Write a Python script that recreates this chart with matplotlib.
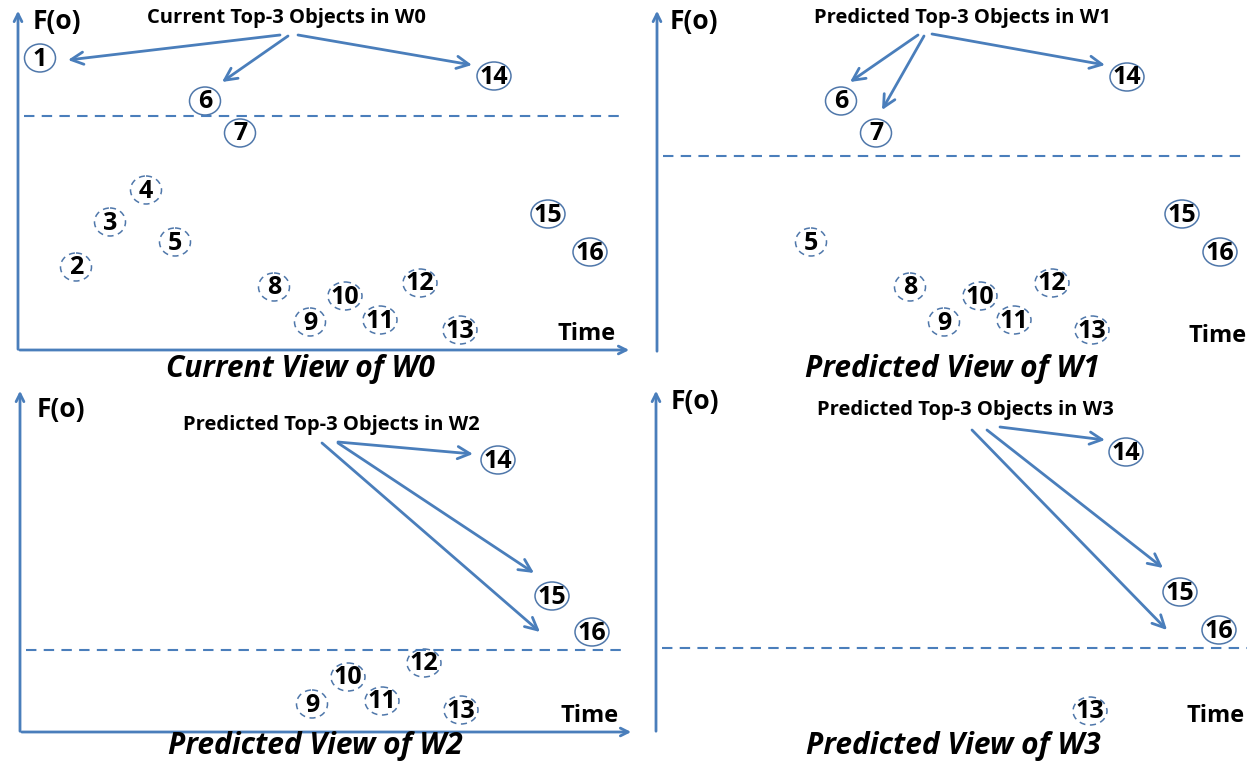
import matplotlib.pyplot as plt
from matplotlib.patches import Ellipse

# 图中各对象的位置（像素坐标，y 轴向下）
w0_ids = [1, 2, 3, 4, 5, 6, 7, 8, 9, 10, 11, 12, 13, 14, 15, 16]
w0_x = [40, 76, 110, 146, 175, 205, 240, 274, 310, 345, 380, 420, 460, 494, 548, 590]
w0_y = [58, 267, 222, 190, 242, 101, 133, 287, 322, 296, 320, 283, 330, 76, 214, 252]

w1_ids = [5, 6, 7, 8, 9, 10, 11, 12, 13, 14, 15, 16]
w1_x = [811, 841, 876, 910, 944, 980, 1014, 1052, 1092, 1127, 1182, 1220]
w1_y = [242, 101, 133, 287, 322, 296, 320, 283, 330, 77, 214, 252]

w2_ids = [9, 10, 11, 12, 13, 14, 15, 16]
w2_x = [312, 348, 382, 424, 461, 498, 552, 592]
w2_y = [704, 677, 701, 663, 710, 460, 596, 632]

w3_ids = [13, 14, 15, 16]
w3_x = [1090, 1126, 1180, 1219]
w3_y = [711, 452, 592, 630]

solid_ids = [1, 6, 7, 14, 15, 16]

BLUE = '#4a7ebb'
EDGE = '#4f77aa'

fig = plt.figure(figsize=(12.47, 7.62), dpi=100)
ax = fig.add_axes([0, 0, 1, 1])
ax.set_xlim(0, 1247)
ax.set_ylim(762, 0)
ax.axis('off')

font = 'Open Sans'


def draw_panel(x0, x1, y_top, y_bot, thr_y, title, title_xy, caption, cap_xy, time_x, fo_xy):
    # 坐标轴
    ax.annotate('', xy=(x0, y_top), xytext=(x0, y_bot + 2),
                arrowprops=dict(arrowstyle='->', color=BLUE, lw=2, mutation_scale=14))
    ax.annotate('', xy=(x1, y_bot), xytext=(x0 - 1, y_bot),
                arrowprops=dict(arrowstyle='->', color=BLUE, lw=2, mutation_scale=14))
    # 阈值虚线
    ax.plot([x0 + 6, min(x1 - 10, 1247)], [thr_y, thr_y], color=BLUE, lw=1.5,
            dashes=(5, 3.5))
    ax.text(fo_xy[0], fo_xy[1], 'F(o)', fontsize=19, fontweight='bold', family=font,
            ha='left', va='center')
    ax.text(title_xy[0], title_xy[1], title, fontsize=14.5, fontweight='bold', family=font,
            ha='center', va='center')
    ax.text(cap_xy[0], cap_xy[1], caption, fontsize=21.5, fontweight='bold', style='italic',
            family=font, ha='center', va='baseline')
    ax.text(time_x, y_bot - 16, 'Time', fontsize=17, fontweight='bold', family=font,
            ha='center', va='center')


def draw_objects(ids, xs, ys):
    for i, x, y in zip(ids, xs, ys):
        solid = i in solid_ids
        w = 34 if i >= 10 else 31
        ax.add_patch(Ellipse((x, y), w, 28, fill=False, ec=EDGE, lw=1.1,
                             ls='-' if solid else (0, (4, 3))))
        ax.text(x, y + 1, str(i), fontsize=18, family=font, ha='center', va='center',
                fontweight='bold')


def arrow(start, end):
    ax.annotate('', xy=end, xytext=start,
                arrowprops=dict(arrowstyle='->', color=BLUE, lw=2, mutation_scale=22,
                                shrinkA=0, shrinkB=0))


draw_panel(18, 632, 8, 350, 116, 'Current Top-3 Objects in W0', (286, 18),
           'Current View of W0', (300, 377), 587, (33, 21))
draw_panel(657, 1262, 8, 352, 156, 'Predicted Top-3 Objects in W1', (962, 18),
           'Predicted View of W1', (952, 377), 1218, (670, 21))
draw_panel(20, 634, 388, 732, 650, 'Predicted Top-3 Objects in W2', (331, 425),
           'Predicted View of W2', (315, 754), 590, (37, 409))
draw_panel(656, 1262, 388, 732, 648, 'Predicted Top-3 Objects in W3', (965, 410),
           'Predicted View of W3', (953, 754), 1216, (671, 401))

draw_objects(w0_ids, w0_x, w0_y)
draw_objects(w1_ids, w1_x, w1_y)
draw_objects(w2_ids, w2_x, w2_y)
draw_objects(w3_ids, w3_x, w3_y)

# 指向 Top-3 的箭头
arrow((280, 35), (68, 60))
arrow((288, 36), (222, 82))
arrow((298, 35), (472, 65))

arrow((918, 35), (850, 82))
arrow((924, 36), (882, 110))
arrow((932, 34), (1105, 65))

arrow((338, 442), (473, 454))
arrow((338, 443), (534, 573))
arrow((322, 443), (540, 632))

arrow((1000, 427), (1105, 440))
arrow((987, 430), (1163, 568))
arrow((972, 430), (1167, 630))

plt.savefig('out.png', dpi=100)
